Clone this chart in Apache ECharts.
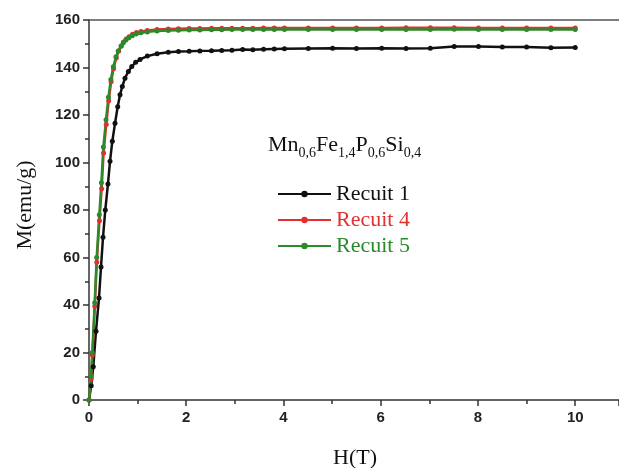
<!DOCTYPE html>
<html>
<head>
<meta charset="utf-8">
<script src="https://cdn.jsdelivr.net/npm/echarts@6/dist/echarts.min.js"></script>
<style>html,body{margin:0;padding:0;background:#fff}#c{width:619px;height:468px}</style>
</head>
<body>
<div id="c"></div>
<script>
const seriesNames = ['Recuit 1', 'Recuit 4', 'Recuit 5'];
const seriesColors = ['#111111', '#e03030', '#2b8a2b'];
const xTicks = [0, 2, 4, 6, 8, 10];
const yTicks = [0, 20, 40, 60, 80, 100, 120, 140, 160];

const recuit1 = [[0,0],[0.045,6],[0.088,14],[0.144,29],[0.206,43],[0.247,56],[0.288,68.5],[0.335,80],[0.39,91],[0.432,100.5],[0.48,109],[0.535,116.5],[0.59,123.5],[0.638,128.5],[0.685,132],[0.74,135.5],[0.81,138.3],[0.88,140.4],[0.96,142.2],[1.05,143.4],[1.2,144.8],[1.4,145.8],[1.63,146.4],[1.84,146.7],[2.06,146.8],[2.28,147],[2.52,147.1],[2.73,147.2],[2.94,147.3],[3.16,147.6],[3.37,147.5],[3.59,147.7],[3.81,147.8],[4.02,147.9],[4.51,148],[5.01,148.1],[5.5,148],[6.02,148.1],[6.52,148],[7.02,148.1],[7.51,148.8],[8.01,148.8],[8.5,148.6],[9.0,148.6],[9.5,148.3],[10,148.4]];
const recuit4 = [[0,0],[0.045,9],[0.07,19],[0.12,39.5],[0.16,58],[0.215,75.5],[0.26,89],[0.3,104],[0.355,116],[0.405,126],[0.455,134],[0.505,139.5],[0.56,144],[0.61,147],[0.665,149.2],[0.71,150.7],[0.765,152],[0.825,153],[0.895,154],[0.975,154.7],[1.07,155.2],[1.2,155.6],[1.4,156],[1.63,156.2],[1.84,156.3],[2.06,156.4],[2.28,156.4],[2.52,156.5],[2.73,156.5],[2.94,156.5],[3.16,156.5],[3.37,156.5],[3.59,156.6],[3.81,156.6],[4.02,156.6],[4.51,156.6],[5.01,156.6],[5.5,156.6],[6.02,156.6],[6.52,156.7],[7.02,156.7],[7.51,156.7],[8.01,156.6],[8.5,156.6],[9.0,156.6],[9.5,156.6],[10,156.6]];
const recuit5 = [[0,0],[0.041,10],[0.068,20],[0.117,41],[0.158,60],[0.212,78],[0.255,91.5],[0.295,106.5],[0.35,118],[0.4,127.5],[0.45,135],[0.5,140.3],[0.555,144.5],[0.6,147],[0.66,149],[0.705,150.4],[0.76,151.6],[0.82,152.5],[0.89,153.4],[0.97,154.1],[1.07,154.6],[1.2,155],[1.4,155.4],[1.63,155.6],[1.84,155.7],[2.06,155.8],[2.28,155.8],[2.52,155.9],[2.73,155.9],[2.94,156],[3.16,156],[3.37,156],[3.59,156],[3.81,156],[4.02,156],[4.51,156],[5.01,156],[5.5,156],[6.02,156],[6.52,156],[7.02,156],[7.51,156.1],[8.01,156],[8.5,156],[9.0,156],[9.5,156],[10,156]];
const allData = [recuit1, recuit4, recuit5];

const chart = echarts.init(document.getElementById('c'), null, {renderer: 'canvas'});
const axisCol = '#333';
const tickFont = {fontFamily: 'Liberation Sans', fontWeight: 'bold', fontSize: 15, color: '#222'};
const serif = 'Liberation Serif';

chart.setOption({
  animation: false,
  backgroundColor: '#fff',
  grid: {left: 89, right: 0, top: 20, bottom: 68},
  xAxis: [{
    type: 'value', min: xTicks[0], max: 10.9, interval: 2,
    axisLine: {show: true, onZero: false, lineStyle: {color: axisCol, width: 1.5}},
    axisTick: {show: true, length: 6, lineStyle: {color: axisCol, width: 1.5}},
    minorTick: {show: true, splitNumber: 2, length: 4, lineStyle: {color: axisCol, width: 1.5}},
    splitLine: {show: false},
    axisLabel: Object.assign({margin: 10, showMaxLabel: false, formatter: v => xTicks.includes(v) ? String(v) : ''}, tickFont)
  }, {
    type: 'value', position: 'top', min: 0, max: 10.9,
    axisLine: {show: true, onZero: false, lineStyle: {color: '#555', width: 1.5}},
    axisTick: {show: false}, axisLabel: {show: false}, splitLine: {show: false}
  }],
  yAxis: {
    type: 'value', min: yTicks[0], max: yTicks[yTicks.length - 1], interval: 20,
    axisLine: {show: true, onZero: false, lineStyle: {color: axisCol, width: 1.5}},
    axisTick: {show: true, length: 6, lineStyle: {color: axisCol, width: 1.5}},
    minorTick: {show: true, splitNumber: 2, length: 4, lineStyle: {color: axisCol, width: 1.5}},
    splitLine: {show: false},
    axisLabel: Object.assign({margin: 9}, tickFont)
  },
  legend: {
    orient: 'vertical', left: 272, top: 178, itemGap: 4,
    itemWidth: 53, itemHeight: 8,
    textStyle: {fontFamily: serif, fontSize: 22},
    data: seriesNames.map((n, i) => ({name: n, textStyle: {color: seriesColors[i]}}))
  },
  series: allData.map((d, i) => ({
    name: seriesNames[i], type: 'line', data: d,
    symbol: 'circle', symbolSize: 5, showAllSymbol: true,
    itemStyle: {color: seriesColors[i]},
    lineStyle: {color: seriesColors[i], width: 2.5}
  })),
  graphic: [
    {type: 'text', left: 268, top: 134, style: {
      rich: {
        m: {fontFamily: serif, fontSize: 22, lineHeight: 26, verticalAlign: 'top', fill: '#111'},
        s: {fontFamily: serif, fontSize: 14, lineHeight: 14, verticalAlign: 'bottom', padding: [12, 0, 0, 0], fill: '#111'}
      },
      text: '{m|Mn}{s|0,6}{m|Fe}{s|1,4}{m|P}{s|0,6}{m|Si}{s|0,4}'
    }},
    {type: 'text', x: 355, y: 458, style: {text: 'H(T)', fontFamily: serif, fontSize: 22, fill: '#111', align: 'center', verticalAlign: 'middle'}},
    {type: 'text', x: 25, y: 205, rotation: Math.PI / 2, style: {text: 'M(emu/g)', fontFamily: serif, fontSize: 22, fill: '#111', align: 'center', verticalAlign: 'middle'}}
  ]
});
</script>
</body>
</html>
